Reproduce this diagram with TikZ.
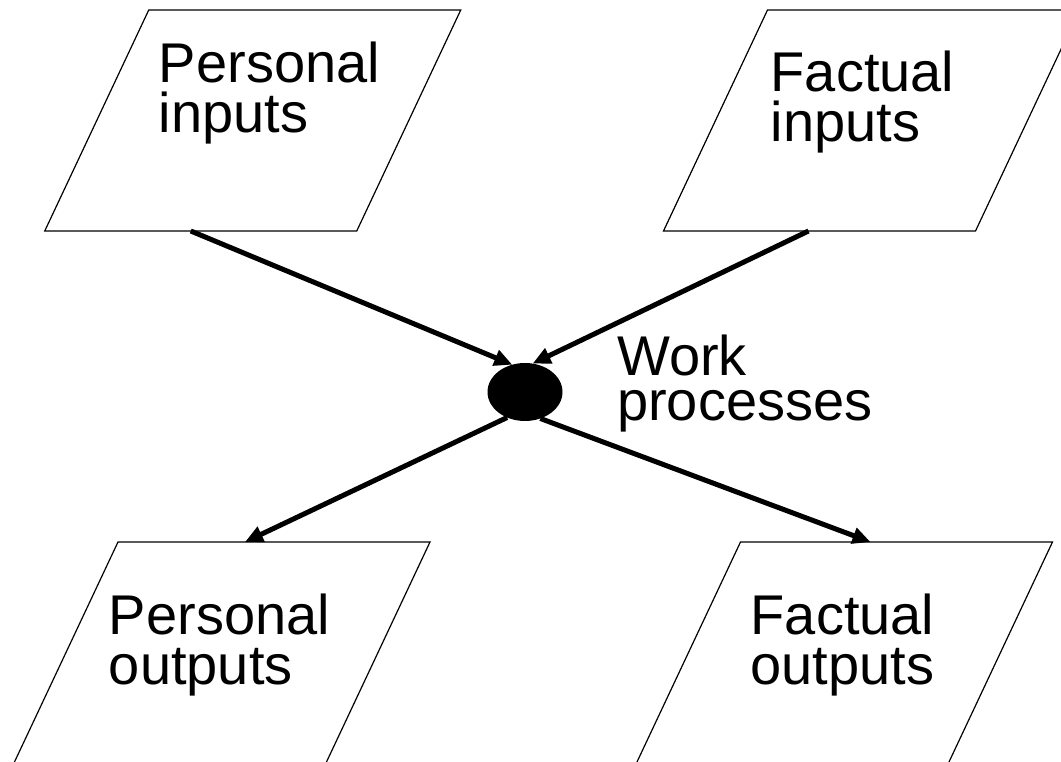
\documentclass[tikz,border=0pt]{standalone}
\usepackage{fontspec}
\setmainfont{Liberation Sans}
\usetikzlibrary{shapes.geometric,arrows.meta}

\begin{document}
\begin{tikzpicture}[x=1pt,y=1pt]

	\def\W{1061}
	\def\H{762}

	\def\boxw{312}
	\def\boxh{221}
	\def\slant{0.4706}

	\def\ytop{641.5}
	\def\ybot{109.5}

	% Colours
	\colorlet{linecolor}{black}
	\colorlet{blobcolor}{black}

	% Styles
	\tikzstyle{iobox}=[rectangle, draw=linecolor, line width=1.2pt,
		xslant=\slant, transform shape,
		minimum width=\boxw, minimum height=\boxh,
		inner sep=0, outer sep=0]
	\tikzstyle{boxtext}=[font=\fontsize{56}{50}\selectfont, align=left,
		inner sep=0, anchor=base west]
	\tikzstyle{flowline}=[linecolor, line width=5pt,
		-{Triangle[length=18pt, width=16pt]}]

	\useasboundingbox (0, 0) rectangle (\W, \H);
	\clip (0, 0) rectangle (\W, \H);

	%== Inputs ===============================================================
	\node[iobox] (pin) at (252.75, \ytop) {};
	\node[iobox] (fin) at (871.5, \ytop) {};

	\node[boxtext] (pintext) at (158.7, 629) {Personal\\inputs};
	\node[boxtext] (fintext) at (770.5, 620) {Factual\\inputs};

	%== Work processes =======================================================
	\node[ellipse, fill=blobcolor, minimum width=75, minimum height=58,
		inner sep=0, outer sep=0] (work) at (525, 370) {};
	\node[boxtext, font=\fontsize{56}{45}\selectfont] (worktext) at (617, 341)
		{Work\\processes};

	%== Outputs ==============================================================
	\node[iobox] (pout) at (222, \ybot) {};
	\node[iobox] (fout) at (844.5, \ybot) {};

	\node[boxtext] (pouttext) at (108.7, 77) {Personal\\outputs};
	\node[boxtext] (fouttext) at (750.5, 77) {Factual\\outputs};

	% Flows
	\draw[flowline] ([xshift=-10pt]pin.south) -- (work.115);
	\draw[flowline] ([xshift=-11pt]fin.south) -- (work.75);
	\draw[flowline] (work.235) -- ([xshift=-29pt]pout.north);
	\draw[flowline] (work.300) -- ([xshift=-26pt]fout.north);

\end{tikzpicture}
\end{document}
